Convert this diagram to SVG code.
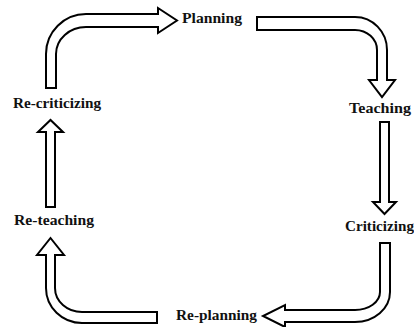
<svg xmlns="http://www.w3.org/2000/svg" width="414" height="327" viewBox="0 0 414 327">
  <style>
    .label { font-family: "Liberation Serif", "Times New Roman", serif; font-weight: bold; font-size: 15px; fill: #111; }
    .arrow { fill: #fff; stroke: #000; stroke-width: 2; stroke-linejoin: miter; }
  </style>
  <rect width="414" height="327" fill="#fff"/>

  <!-- block arrows between the stages -->
  <g id="connectors">
    <!-- Re-criticizing to Planning -->
    <path class="arrow" d="M46,88 L46,54 A40,40 0 0 1 86,14 L158,14 L158,8 L177,20.5 L158,33 L158,27 L86,27 A30,27 0 0 0 56,54 L56,88 Z"/>
    <!-- Planning to Teaching -->
    <path class="arrow" d="M257,17 L355,17 A32,33 0 0 1 387,50 L387,80 L395,80 L382,97 L369,80 L377,80 L377,50 A22,20 0 0 0 355,30 L257,30 Z"/>
    <!-- Teaching to Criticizing -->
    <path class="arrow" d="M380,122 L389,122 L389,202 L396,202 L384.5,214 L373,202 L380,202 Z"/>
    <!-- Criticizing to Re-planning -->
    <path class="arrow" d="M380,243 L390,243 L390,292 A35,30 0 0 1 355,322 L285,322 L285,327 L263,316 L285,305 L285,310 L355,310 A25,18 0 0 0 380,292 Z"/>
    <!-- Re-planning to Re-teaching -->
    <path class="arrow" d="M157,312 L157,323 L82,323 A36,35 0 0 1 46,288 L46,255 L37,255 L50.5,238 L64,255 L55,255 L55,288 A27,24 0 0 0 82,312 Z"/>
    <!-- Re-teaching to Re-criticizing -->
    <path class="arrow" d="M46,207 L46,132 L38,132 L50.5,120 L63,132 L55,132 L55,207 Z"/>
  </g>

  <g id="planning"><text class="label" x="182" y="23" textLength="60" lengthAdjust="spacingAndGlyphs">Planning</text></g>
  <g id="teaching"><text class="label" x="349" y="113" textLength="62" lengthAdjust="spacingAndGlyphs">Teaching</text></g>
  <g id="criticizing"><text class="label" x="345" y="231" textLength="69" lengthAdjust="spacingAndGlyphs">Criticizing</text></g>
  <g id="re-planning"><text class="label" x="176" y="320" textLength="81" lengthAdjust="spacingAndGlyphs">Re-planning</text></g>
  <g id="re-teaching"><text class="label" x="14" y="225" textLength="80" lengthAdjust="spacingAndGlyphs">Re-teaching</text></g>
  <g id="re-criticizing"><text class="label" x="13" y="108" textLength="88" lengthAdjust="spacingAndGlyphs">Re-criticizing</text></g>
</svg>
